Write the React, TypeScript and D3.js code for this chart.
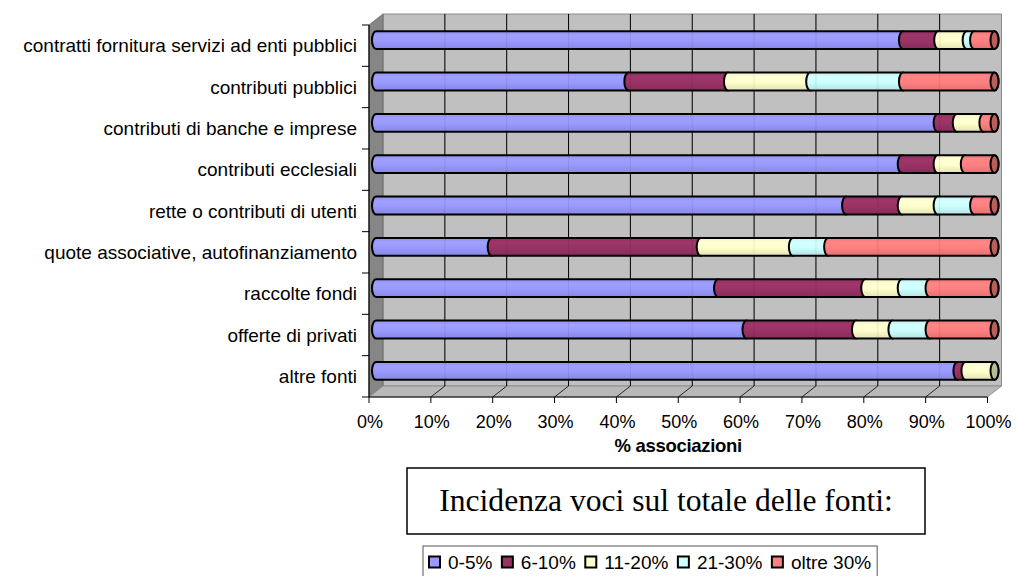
import React, { useEffect, useRef } from 'react';
import * as d3 from 'd3';

const categories = [
  'contratti fornitura servizi ad enti pubblici',
  'contributi pubblici',
  'contributi di banche e imprese',
  'contributi ecclesiali',
  'rette o contributi di utenti',
  'quote associative, autofinanziamento',
  'raccolte fondi',
  'offerte di privati',
  'altre fonti',
];
const seriesNames = ['0-5%', '6-10%', '11-20%', '21-30%', 'oltre 30%'];
const seriesColors = ['#9999FF', '#993366', '#FFFFCC', '#CCFFFF', '#FF8080'];
const v0to5 = [85.2, 40.8, 90.8, 85.0, 76.0, 18.7, 55.3, 59.9, 94.0];
const v6to10 = [5.7, 16.1, 3.1, 5.8, 9.0, 33.8, 23.8, 17.7, 1.3];
const v11to20 = [4.6, 13.3, 4.3, 4.4, 5.8, 14.9, 5.9, 5.9, 4.7];
const v21to30 = [1.2, 15.0, 0, 0, 5.9, 5.7, 4.5, 6.0, 0];
const vOltre30 = [3.3, 14.8, 1.8, 4.8, 3.3, 26.9, 10.5, 10.5, 0];
const xTicks = [0, 10, 20, 30, 40, 50, 60, 70, 80, 90, 100];
const xTitle = '% associazioni';
const chartTitle = 'Incidenza voci sul totale delle fonti:';

export default function App() {
  const ref = useRef<SVGSVGElement>(null);

  useEffect(() => {
    const svg = d3.select(ref.current);
    svg.selectAll('*').remove();

    const left = 369, right = 987.5, top = 25, bottom = 397;
    const dx = 14, dy = -11;
    const x = d3.scaleLinear().domain([0, 100]).range([left, right]);
    const y = d3.scaleBand<string>().domain(categories).range([top, bottom]);

    const rows = categories.map((c, i) => ({
      cat: c,
      s0: v0to5[i], s1: v6to10[i], s2: v11to20[i], s3: v21to30[i], s4: vOltre30[i],
    }));
    const keys = ['s0', 's1', 's2', 's3', 's4'];
    const stacked = d3.stack<any>().keys(keys)(rows);

    const defs = svg.append('defs');
    seriesColors.forEach((c, i) => {
      const base = d3.color(c)!;
      const g = defs.append('linearGradient').attr('id', 'g' + i)
        .attr('x1', 0).attr('y1', 0).attr('x2', 0).attr('y2', 1);
      g.append('stop').attr('offset', '0%').attr('stop-color', base.darker(0.15).toString());
      g.append('stop').attr('offset', '25%').attr('stop-color', base.brighter(0.12).toString());
      g.append('stop').attr('offset', '55%').attr('stop-color', base.toString());
      g.append('stop').attr('offset', '100%').attr('stop-color', base.darker(0.35).toString());
    });

    // walls
    svg.append('rect').attr('x', left + dx).attr('y', top + dy)
      .attr('width', right - left).attr('height', bottom - top)
      .attr('fill', '#C0C0C0').attr('stroke', '#8c8c8c').attr('stroke-width', 1);
    svg.append('polygon')
      .attr('points', `${left},${top} ${left + dx},${top + dy} ${left + dx},${bottom + dy} ${left},${bottom}`)
      .attr('fill', '#868686').attr('stroke', '#666').attr('stroke-width', 0.8);
    svg.append('polygon')
      .attr('points', `${left},${bottom} ${left + dx},${bottom + dy} ${right + dx},${bottom + dy} ${right},${bottom}`)
      .attr('fill', '#b8b8b8').attr('stroke', '#888').attr('stroke-width', 0.8);

    // back gridlines + floor gridlines
    xTicks.forEach(t => {
      if (t === 0 || t === 100) return;
      svg.append('line')
        .attr('x1', x(t) + dx).attr('x2', x(t) + dx)
        .attr('y1', top + dy).attr('y2', bottom + dy)
        .attr('stroke', '#000').attr('stroke-width', 1);
      svg.append('line')
        .attr('x1', x(t)).attr('y1', bottom)
        .attr('x2', x(t) + dx).attr('y2', bottom + dy)
        .attr('stroke', '#000').attr('stroke-width', 0.8);
    });

    // bars (cylinders at mid depth)
    const bw = y.bandwidth() * 0.43;
    const rx = 4, ry = bw / 2;
    const mx = dx / 2, my = dy / 2;
    categories.forEach((c, ci) => {
      const cy = (y(c) as number) + y.bandwidth() / 2 + my;
      const yt = cy - ry, yb = cy + ry;
      let lastEnd = 0, lastIdx = 0;
      stacked.forEach((layer, si) => {
        const d = layer[ci];
        if (d[1] - d[0] <= 0.0001) return;
        const x0 = x(d[0]) + mx, x1 = x(d[1]) + mx;
        svg.append('path')
          .attr('d', `M${x0},${yt} A${rx},${ry} 0 0 0 ${x0},${yb} L${x1},${yb} A${rx},${ry} 0 0 0 ${x1},${yt} Z`)
          .attr('fill', `url(#g${si})`)
          .attr('stroke', '#000').attr('stroke-width', 2);
        lastEnd = x1; lastIdx = si;
      });
      svg.append('ellipse')
        .attr('cx', lastEnd).attr('cy', cy).attr('rx', rx).attr('ry', ry)
        .attr('fill', d3.color(seriesColors[lastIdx])!.darker(0.9).toString())
        .attr('stroke', '#000').attr('stroke-width', 2);
    });

    // faint gridlines through bars
    xTicks.forEach(t => {
      if (t === 0 || t === 100) return;
      svg.append('line')
        .attr('x1', x(t) + dx).attr('x2', x(t) + dx)
        .attr('y1', top + dy).attr('y2', bottom + dy)
        .attr('stroke', '#000').attr('stroke-width', 1).attr('opacity', 0.08);
    });

    // axes
    const font = 'Liberation Sans, Arial, sans-serif';
    const axG = svg.append('g');
    axG.append('line').attr('x1', left).attr('x2', left).attr('y1', top).attr('y2', bottom)
      .attr('stroke', '#000').attr('stroke-width', 1.2);
    axG.append('line').attr('x1', left).attr('x2', right).attr('y1', bottom).attr('y2', bottom)
      .attr('stroke', '#000').attr('stroke-width', 1.2);
    categories.forEach((c, i) => {
      const yy = y(c) as number;
      axG.append('line').attr('x1', left - 7).attr('x2', left).attr('y1', yy).attr('y2', yy)
        .attr('stroke', '#000').attr('stroke-width', 1);
      if (i === categories.length - 1) {
        axG.append('line').attr('x1', left - 7).attr('x2', left)
          .attr('y1', yy + y.bandwidth()).attr('y2', yy + y.bandwidth())
          .attr('stroke', '#000').attr('stroke-width', 1);
      }
      axG.append('text')
        .attr('x', left - 12).attr('y', yy + y.bandwidth() / 2)
        .attr('text-anchor', 'end').attr('dominant-baseline', 'central')
        .attr('font-family', font).attr('font-size', 19)
        .attr('fill', '#000').text(c);
    });
    xTicks.forEach(t => {
      axG.append('line').attr('x1', x(t)).attr('x2', x(t)).attr('y1', bottom).attr('y2', bottom + 6)
        .attr('stroke', '#000').attr('stroke-width', 1);
      axG.append('text')
        .attr('x', x(t) + 1).attr('y', bottom + 31)
        .attr('text-anchor', 'middle')
        .attr('font-family', font).attr('font-size', 18)
        .attr('fill', '#000').text(t + '%');
    });
    axG.append('text')
      .attr('x', (left + right) / 2).attr('y', bottom + 55)
      .attr('text-anchor', 'middle')
      .attr('font-family', font).attr('font-size', 18.5)
      .attr('font-weight', 'bold').attr('letter-spacing', -0.3)
      .attr('fill', '#000').text(xTitle);

    // title box
    svg.append('rect').attr('x', 407).attr('y', 468).attr('width', 518).attr('height', 66)
      .attr('fill', '#fff').attr('stroke', '#000').attr('stroke-width', 1.5);
    svg.append('text').attr('x', 666).attr('y', 511)
      .attr('text-anchor', 'middle')
      .attr('font-family', 'Liberation Serif, Times New Roman, serif').attr('font-size', 31.6)
      .attr('fill', '#000').text(chartTitle);

    // legend
    const lg = svg.append('g');
    const items = lg.append('g');
    let cx = 0;
    const gap = 9.5;
    seriesNames.forEach((n, i) => {
      const it = items.append('g').attr('transform', `translate(${cx},0)`);
      it.append('rect').attr('x', 0).attr('y', -5.5).attr('width', 11).attr('height', 11)
        .attr('fill', seriesColors[i]).attr('stroke', '#000').attr('stroke-width', 2);
      const tx = it.append('text').attr('x', 19).attr('y', 0).attr('dominant-baseline', 'central')
        .attr('font-family', font).attr('font-size', 19)
        .attr('fill', '#000').text(n);
      const w = (tx.node() as SVGTextElement).getComputedTextLength();
      cx += 19 + w + gap;
    });
    const totalW = cx - gap;
    const boxX = 423;
    const boxW = totalW + 12;
    lg.insert('rect', ':first-child').attr('x', boxX).attr('y', 546).attr('width', boxW).attr('height', 36)
      .attr('fill', '#fff').attr('stroke', '#555').attr('stroke-width', 1);
    items.attr('transform', `translate(${boxX + 6},${562})`);
  }, []);

  return (
    <svg ref={ref} width={1016} height={576}
      style={{ position: 'absolute', left: 0, top: 0, background: '#fff' }} />
  );
}
